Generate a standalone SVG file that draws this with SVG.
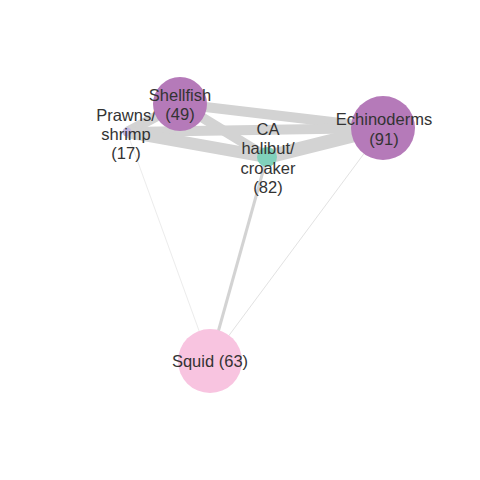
<svg xmlns="http://www.w3.org/2000/svg" width="480" height="480" viewBox="0 0 480 480">
<style>
.e{stroke:#d3d3d3;fill:none;stroke-linecap:butt}
.lbl{font-family:"Liberation Sans",Arial,Helvetica,sans-serif;font-size:16.5px;fill:#333333;text-anchor:middle}
</style>
<rect width="480" height="480" fill="#ffffff"/>
<g id="connectors">
<line class="e" x1="127" y1="132" x2="210" y2="361" stroke-width="1" style="stroke:#ececec"/>
<line class="e" x1="383" y1="128" x2="210" y2="361" stroke-width="1" style="stroke:#e2e2e2"/>
<line class="e" x1="267" y1="157" x2="210" y2="361" stroke-width="3"/>
<line class="e" x1="180" y1="104" x2="383" y2="128" stroke-width="10"/>
<line class="e" x1="180" y1="104" x2="267" y2="157" stroke-width="10"/>
<line class="e" x1="127" y1="132" x2="180" y2="104" stroke-width="10"/>
<line class="e" x1="127" y1="132" x2="383" y2="128" stroke-width="10"/>
<line class="e" x1="127" y1="132" x2="267" y2="157" stroke-width="12"/>
<line class="e" x1="267" y1="157" x2="383" y2="128" stroke-width="14"/>
</g>
<g id="node-prawns">
<circle cx="127" cy="132" r="4.5" fill="#c6b6e2"/>
<text class="lbl" x="126" y="121">Prawns/</text>
<text class="lbl" x="126" y="140">shrimp</text>
<text class="lbl" x="126" y="159">(17)</text>
</g>
<g id="node-shellfish">
<circle cx="180" cy="104" r="27" fill="#b57ab9"/>
<text class="lbl" x="180" y="101">Shellfish</text>
<text class="lbl" x="180" y="120">(49)</text>
</g>
<g id="node-cahalibut">
<circle cx="267" cy="157" r="10" fill="#80d1bb"/>
<text class="lbl" x="268" y="135">CA</text>
<text class="lbl" x="268" y="154">halibut/</text>
<text class="lbl" x="268" y="174">croaker</text>
<text class="lbl" x="268" y="193">(82)</text>
</g>
<g id="node-echinoderms">
<circle cx="383" cy="128" r="32" fill="#b57ab9"/>
<text class="lbl" x="384" y="125">Echinoderms</text>
<text class="lbl" x="384" y="145">(91)</text>
</g>
<g id="node-squid">
<circle cx="210" cy="361" r="32" fill="#f8c4e0"/>
<text class="lbl" x="210" y="367">Squid (63)</text>
</g>
</svg>
